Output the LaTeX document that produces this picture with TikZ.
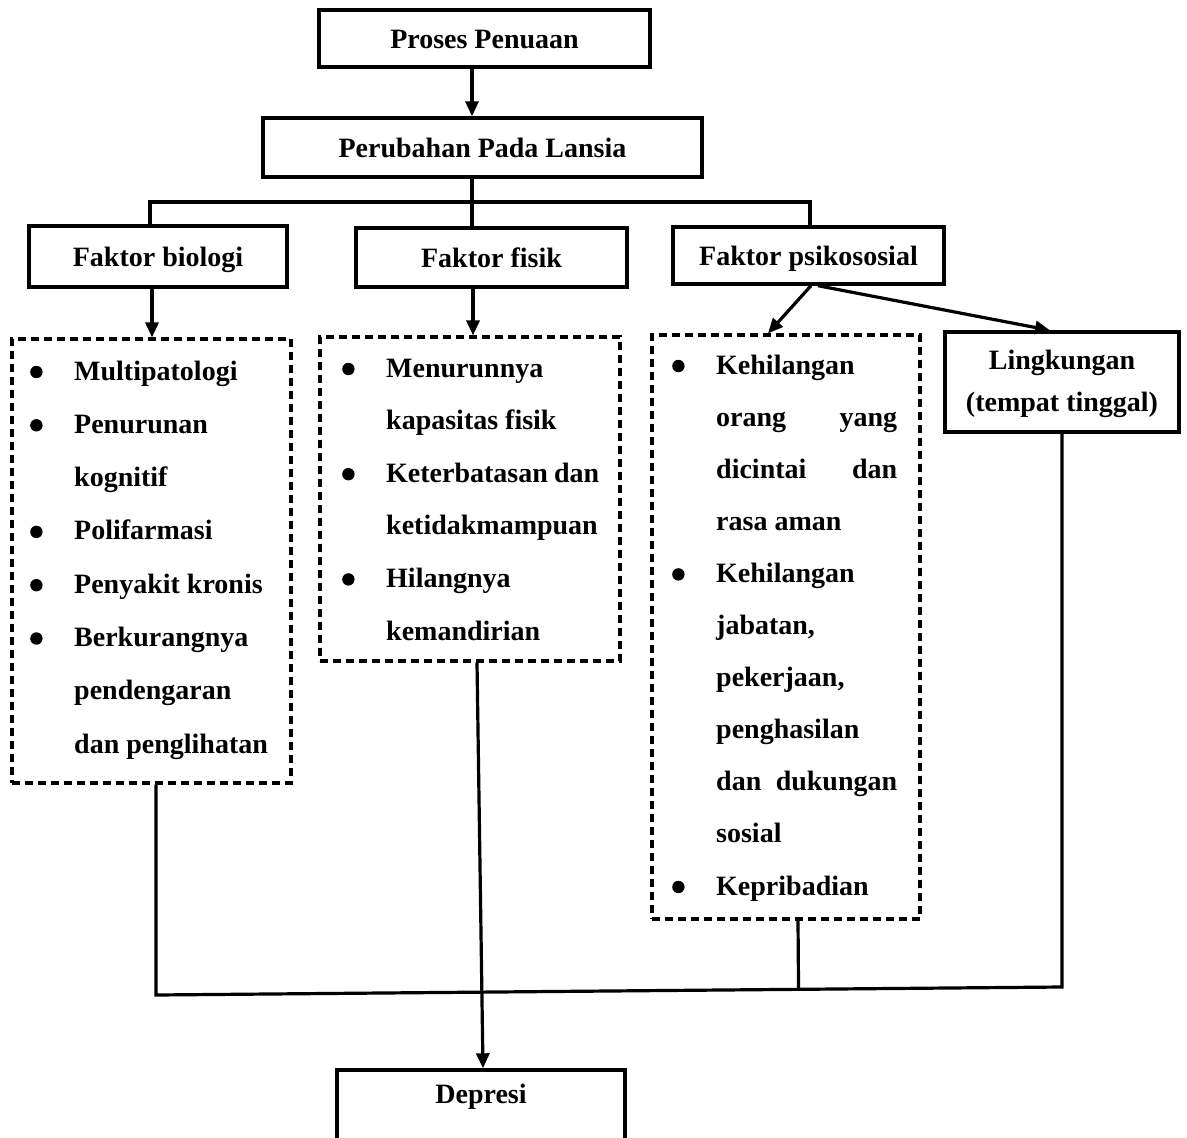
\documentclass[tikz,border=0pt]{standalone}
\usepackage{fontspec}
\setmainfont{Liberation Serif}
\usetikzlibrary{arrows.meta,calc}
\newcommand\bul{\makebox[44pt][l]{\tikz[baseline=0pt,x=1pt,y=1pt]\fill (5.5,8) circle[radius=6.2];}}
\newcommand\nob{\hspace*{44pt}}
\begin{document}
\begin{tikzpicture}[x=1pt,y=-1pt,
  boxline/.style={draw, line width=3.4pt, rectangle, inner sep=0pt,
    font=\bfseries\fontsize{28}{34}\selectfont},
  box/.style={boxline, text height=19pt, text depth=0pt},
  dbox/.style={draw, line width=3.2pt, dash pattern=on 8pt off 5pt, inner sep=0pt},
  conn/.style={line width=3.2pt},
  arr/.style={conn, -{Triangle[length=15pt,width=13pt]}},
  listtxt/.style={anchor=base west, inner sep=0pt}]
\useasboundingbox (0,0) rectangle (1187,1138);
\clip (0,0) rectangle (1187,1138);
\fill[white] (0,0) rectangle (1187,1138);

% solid boxes
\node[box, minimum width=331pt, minimum height=57pt] (pp) at (484.5,38.5) {Proses Penuaan};
\node[box, minimum width=439pt, minimum height=59pt] (pl) at (482.5,147.5) {Perubahan Pada Lansia};
\node[box, minimum width=258pt, minimum height=61pt] (fb) at (158,256.5) {Faktor biologi};
\node[box, minimum width=271pt, minimum height=59pt] (ff) at (491.5,257.5) {Faktor fisik};
\node[box, minimum width=271pt, minimum height=57pt] (fp) at (808.5,255.5) {Faktor psikososial};
\node[boxline, minimum width=234pt, minimum height=100pt, font=\bfseries\fontsize{28}{42}\selectfont] (lk) at (1062,382)
  {\begin{tabular}{@{}c@{}}Lingkungan\\(tempat tinggal)\end{tabular}};
\node[box, text depth=33pt, minimum width=288pt, minimum height=80pt] (dp) at (481,1110) {Depresi};

% dashed boxes
\node[dbox, minimum width=279pt, minimum height=444pt] (d1) at (151.5,561) {};
\node[dbox, minimum width=300pt, minimum height=324pt] (d2) at (470,499) {};
\node[dbox, minimum width=268pt, minimum height=584pt] (d3) at (786,627) {};

% lists
\node[listtxt, font=\bfseries\fontsize{28}{53.3}\selectfont] (l1) at (30,380)
  {\begin{tabular}[t]{@{}l@{}}
   \bul Multipatologi\\
   \bul Penurunan\\
   \nob kognitif\\
   \bul Polifarmasi\\
   \bul Penyakit kronis\\
   \bul Berkurangnya\\
   \nob pendengaran\\
   \nob dan penglihatan
   \end{tabular}};
\node[listtxt, font=\bfseries\fontsize{28}{52.6}\selectfont] (l2) at (342,377)
  {\begin{tabular}[t]{@{}l@{}}
   \bul Menurunnya\\
   \nob kapasitas fisik\\
   \bul \hbox to 213pt{Keterbatasan\hfill dan}\\
   \nob ketidakmampuan\\
   \bul Hilangnya\\
   \nob kemandirian
   \end{tabular}};
\node[listtxt, font=\bfseries\fontsize{28}{52.1}\selectfont] (l3) at (672,374)
  {\begin{tabular}[t]{@{}l@{}}
   \bul Kehilangan\\
   \nob \hbox to 181pt{orang\hfill yang}\\
   \nob \hbox to 181pt{dicintai\hfill dan}\\
   \nob rasa aman\\
   \bul Kehilangan\\
   \nob jabatan,\\
   \nob pekerjaan,\\
   \nob penghasilan\\
   \nob \hbox to 181pt{dan\hfill dukungan}\\
   \nob sosial\\
   \bul Kepribadian
   \end{tabular}};

% helper coordinates
\coordinate (sp) at (472,202);
\coordinate (sl) at (150,202);
\coordinate (sr) at (810,202);
\coordinate (a1) at (152,0);
\coordinate (a2) at (473,0);
\coordinate (a3s) at (811,0);
\coordinate (a3e) at (768,0);
\coordinate (a4s) at (818,0);
\coordinate (a4e) at (1050,0);
\coordinate (b1) at (156,0);
\coordinate (b2s) at (477,0);
\coordinate (b2e) at (483,0);
\coordinate (b3) at (798,0);
\coordinate (b4) at (1062,0);
\coordinate (bl) at (156,995);
\coordinate (br) at (1062,987);

% connectors top
\draw[arr] (sp |- pp.south) -- (sp |- pl.north);
\draw[conn] (sp |- pl.south) -- (sp |- ff.north);
\draw[conn] (sl |- fb.north) -- (sl) -- (sr) -- (sr |- fp.north);
\draw[arr] (fb.south -| a1) -- (d1.north -| a1);
\draw[arr] (ff.south -| a2) -- (d2.north -| a2);
\draw[arr] (fp.south -| a3s) -- (d3.north -| a3e);
\draw[arr] (fp.south -| a4s) -- (lk.north -| a4e);

% connectors bottom
\draw[conn] (d1.south -| b1) -- (bl) -- (br) -- (lk.south -| b4);
\draw[conn] (d3.south -| b3) -- ($(bl)!(d3.south -| b3)!(br)$);
\draw[arr] (d2.south -| b2s) -- (dp.north -| b2e);
\end{tikzpicture}
\end{document}
